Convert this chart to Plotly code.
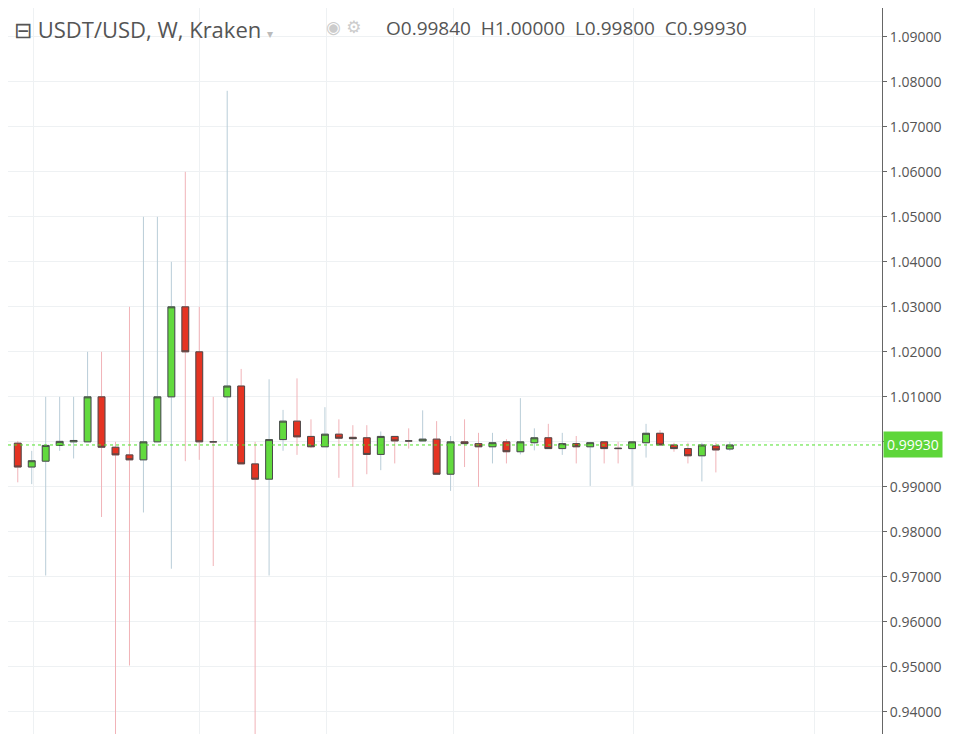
import plotly.graph_objects as go

# weekly USDT/USD candles (Kraken), oldest first
opens = [0.9997, 0.9944, 0.9957, 0.9992, 1.0000, 1.0000, 1.0100, 0.9988, 0.9971, 0.9960,
         1.0000, 1.0100, 1.0300, 1.0200, 1.0000, 1.0100, 1.0124, 0.9951, 0.9917, 1.0005,
         1.0046, 1.0012, 0.9989, 1.0017, 1.0010, 1.0009, 0.9972, 1.0012, 1.0002, 1.0002,
         1.0006, 0.9928, 1.0000, 0.9996, 0.9989, 1.0000, 0.9978, 0.9998, 1.0009, 0.9985,
         0.9996, 0.9989, 1.0000, 0.9986, 0.9985, 0.9998, 1.0019, 0.9993, 0.9985, 0.9969,
         0.9991, 0.9984]
highs = [1.0002, 0.9980, 1.0100, 1.0100, 1.0100, 1.0200, 1.0200, 1.0000, 1.0300, 1.0500,
         1.0500, 1.0400, 1.0600, 1.0300, 1.0100, 1.0780, 1.0162, 1.0000, 1.0139, 1.0071,
         1.0141, 1.0050, 1.0077, 1.0050, 1.0037, 1.0037, 1.0023, 1.0012, 1.0030, 1.0070,
         1.0046, 1.0013, 1.0050, 1.0020, 1.0020, 1.0006, 1.0097, 1.0030, 1.0040, 1.0020,
         1.0013, 1.0000, 1.0000, 1.0000, 1.0000, 1.0040, 1.0026, 0.9998, 0.9998, 0.9998,
         0.9998, 1.0000]
lows = [0.9910, 0.9906, 0.9703, 0.9980, 0.9963, 1.0000, 0.9833, 0.9300, 0.9503, 0.9843,
        1.0000, 0.9718, 0.9957, 0.9960, 0.9724, 1.0000, 0.9951, 0.9300, 0.9703, 0.9980,
        0.9971, 0.9986, 0.9989, 0.9920, 0.9900, 0.9928, 0.9937, 0.9952, 0.9985, 1.0002,
        0.9928, 0.9891, 0.9944, 0.9900, 0.9952, 0.9952, 0.9972, 0.9981, 0.9985, 0.9971,
        0.9952, 0.9902, 0.9952, 0.9952, 0.9902, 0.9965, 0.9993, 0.9978, 0.9952, 0.9912,
        0.9932, 0.9980]
closes = [0.9944, 0.9958, 0.9992, 1.0001, 1.0003, 1.0100, 0.9988, 0.9971, 0.9960, 1.0000,
          1.0100, 1.0300, 1.0200, 1.0000, 1.0000, 1.0124, 0.9951, 0.9917, 1.0005, 1.0046,
          1.0011, 0.9989, 1.0017, 1.0008, 1.0007, 0.9972, 1.0012, 1.0002, 1.0002, 1.0006,
          0.9928, 1.0000, 0.9996, 0.9989, 0.9998, 0.9978, 1.0000, 1.0009, 0.9985, 0.9996,
          0.9989, 0.9998, 0.9985, 0.9985, 1.0000, 1.0019, 0.9993, 0.9985, 0.9969, 0.9993,
          0.9982, 0.9993]
weeks = list(range(len(opens)))
last_price = 0.9993

y_ticks = [0.94, 0.95, 0.96, 0.97, 0.98, 0.99, 1.00, 1.01, 1.02, 1.03, 1.04, 1.05, 1.06, 1.07, 1.08, 1.09]
# the 1.00000 label sits under the last-price tag, so it is left blank
y_labels = ["" if abs(v - 1.0) < 1e-9 else f"{v:.5f}" for v in y_ticks]
x_grid = [1.14, 13.03, 22.1, 31.2, 44.1, 57.1]

body_hi = [max(o, c) for o, c in zip(opens, closes)]
body_lo = [min(o, c) for o, c in zip(opens, closes)]

fig = go.Figure()

# wicks
fig.add_trace(go.Candlestick(
    x=weeks, open=opens, high=highs, low=lows, close=closes,
    increasing=dict(line=dict(color="#b9cdd8", width=1), fillcolor="rgba(0,0,0,0)"),
    decreasing=dict(line=dict(color="#f1b3b8", width=1), fillcolor="rgba(0,0,0,0)"),
    whiskerwidth=0, hoverinfo="skip", showlegend=False,
))
# bodies
fig.add_trace(go.Candlestick(
    x=weeks, open=opens, high=body_hi, low=body_lo, close=closes,
    increasing=dict(line=dict(color="#4a4a4a", width=1), fillcolor="#62da3e"),
    decreasing=dict(line=dict(color="#4a4a4a", width=1), fillcolor="#e53322"),
    whiskerwidth=0, showlegend=False,
))

fig.add_hline(y=last_price, line=dict(color="#4ee02a", width=1, dash="dot"))

fig.add_annotation(x=1, xref="paper", y=last_price, text="0.99930", showarrow=False,
                   xanchor="left", xshift=1, bgcolor="#5ed63a", font=dict(color="white", size=14),
                   borderpad=3)
fig.add_annotation(x=0.005, xref="paper", y=0.995, yref="paper", showarrow=False,
                   xanchor="left", yanchor="top",
                   text="⊟ USDT/USD, W, Kraken <span style='color:#bbb;font-size:12px'>▾</span>",
                   font=dict(size=22, color="#555", family="Open Sans"))
fig.add_annotation(x=0.362, xref="paper", y=0.99, yref="paper", showarrow=False,
                   xanchor="left", yanchor="top",
                   text="◉ ⚙",
                   font=dict(size=17, color="#ccc", family="DejaVu Sans"))
fig.add_annotation(x=0.43, xref="paper", y=0.993, yref="paper", showarrow=False,
                   xanchor="left", yanchor="top",
                   text="O0.99840  H1.00000  L0.99800  C0.99930",
                   font=dict(size=19, color="#555", family="Open Sans"))

fig.update_layout(
    width=956, height=734, margin=dict(l=0, r=82, t=0, b=0),
    plot_bgcolor="white", paper_bgcolor="white",
    font=dict(family="Open Sans", color="#555"),
    xaxis=dict(range=[-0.7, 61.9], rangeslider=dict(visible=False), tickvals=x_grid,
               showticklabels=False, showgrid=True, gridcolor="#eef1f3", zeroline=False),
    yaxis=dict(side="right", range=[0.9333, 1.0964], tickvals=y_ticks, ticktext=y_labels,
               showgrid=True, gridcolor="#eef1f3", zeroline=False, showline=True,
               linecolor="#666", ticks="outside", ticklen=4, tickcolor="#666",
               tickfont=dict(size=14, color="#555")),
)

fig.write_html("out.html")
